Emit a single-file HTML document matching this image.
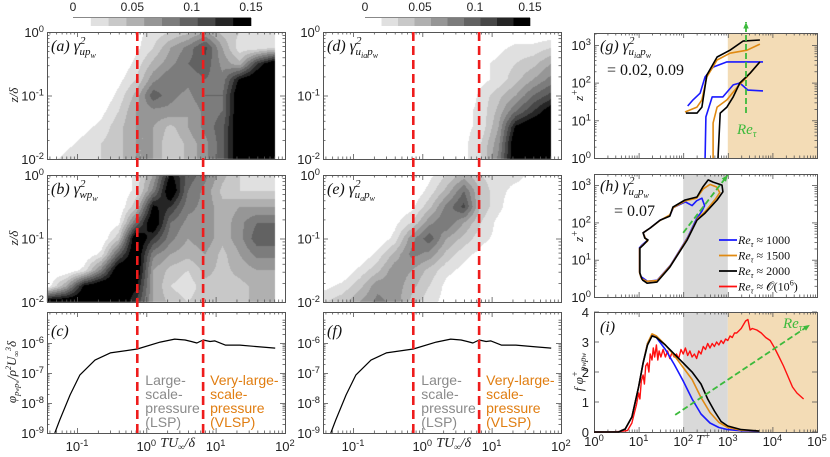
<!DOCTYPE html>
<html><head><meta charset="utf-8">
<style>
html,body{margin:0;padding:0;background:#fff;}
#wrap{position:relative;width:830px;height:457px;overflow:hidden;}
canvas,svg{position:absolute;left:0;top:0;}
text{font-family:"Liberation Sans",sans-serif;}
.s{font-family:"Liberation Serif",serif;font-style:italic;}
.r{font-family:"Liberation Serif",serif;}
</style></head><body>
<div id="wrap">
<canvas id="cv" width="830" height="457"></canvas>
<svg id="sv" width="830" height="457" xmlns="http://www.w3.org/2000/svg"></svg>
</div>
<script>
// ---------- DATA ----------
const gridLogT = [-1.4,-1.15,-0.9,-0.65,-0.4,-0.15,0.1,0.35,0.6,0.85,1.1,1.35,1.6,1.85];
const gridLogZ = [0,-0.25,-0.5,-0.75,-1,-1.25,-1.5,-1.75,-2];
// coherence values in units of 0.01
const gammaA = [
[0,0,0,0,0,1,2,3,4,6,4,3,2,2],
[0,0,0,0,0,1,3,6,8,11,6,2,2,3],
[0,0,0,0,0,2,5,7,9,10,7,5,12,16],
[0,0,0,0,1,3,7,9,8,9,8,14,16,16],
[0,0,0,0,2,5,10,8,7,9,9,16,16,16],
[0,0,0,1,3,6,7,7,6,8,9,16,16,16],
[0,0,1,2,4,6,6,4,6,8,10,16,16,16],
[0,1,2,3,4,6,6,3,5,7,10,16,16,16],
[1,2,3,3,4,6,6,3,5,7,10,16,16,16]];
const gammaB = [
[0,0,0,0,0,2,6,14,10,8,5,3,2,2],
[0,0,0,0,0,2,8,16,9,7,4,3,3,3],
[0,0,0,0,0,4,14,12,8,7,5,6,6,6],
[0,0,0,0,1,9,16,9,7,7,5,7,9,9],
[0,0,0,0,4,16,12,8,6,7,5,7,10,10],
[0,0,0,2,10,16,8,6,5,6,4,6,8,8],
[0,0,2,8,16,16,6,4,3,5,4,5,6,6],
[1,6,14,16,16,14,6,3,2,4,4,4,5,5],
[16,16,16,16,16,12,6,4,3,4,4,4,5,5]];
const gammaD = [
[0,0,0,0,0,0,0,0,0,0,0,0,0,0],
[0,0,0,0,0,0,0,0,0,0,1,2,2,3],
[0,0,0,0,0,0,0,0,0,1,2,3,4,6],
[0,0,0,0,0,0,0,0,0,1,2,4,6,8],
[0,0,0,0,0,0,0,0,0,2,4,6,9,11],
[0,0,0,0,0,0,0,0,1,2,5,9,12,15],
[0,0,0,0,0,0,0,0,1,2,6,14,16,16],
[0,0,0,0,0,0,0,0,1,3,7,16,16,16],
[0,0,0,0,0,0,0,0,1,3,8,16,16,16]];
const gammaE = [
[0,0,0,0,0,0,1,3,5,3,2,2,1,1],
[0,0,0,0,0,0,2,5,9,4,2,1,1,1],
[0,0,0,0,0,1,4,8,11,4,2,0,1,1],
[0,0,0,0,1,3,7,9,6,3,1,0,1,1],
[0,0,0,0,2,7,10,6,4,2,1,0,0,0],
[0,0,0,2,5,8,7,4,2,1,0,0,0,0],
[0,0,2,4,7,6,4,2,1,0,0,0,0,0],
[1,2,4,7,7,5,3,1,0,0,0,0,0,0],
[3,4,6,8,7,4,2,1,0,0,0,0,0,0]];
// spectrum (c),(f): log10 T, log10 phi
const phiLogT = [-1.32,-1.25,-1.1,-0.96,-0.74,-0.52,-0.13,0.2,0.41,0.56,0.65,0.73,0.82,0.92,0.99,1.14,1.35,1.64,1.86];
const phiLogV = [-9,-8.57,-7.73,-7.07,-6.57,-6.33,-6.2,-5.97,-5.87,-5.9,-5.95,-6.0,-5.9,-5.95,-5.93,-6.07,-6.07,-6.13,-6.17];
// (g) contour lines [log T+, log z+]
const gBlueHi = [[2.1,1.38],[2.22,1.54],[2.38,1.72],[2.49,2.15],[2.67,2.41],[2.98,2.55],[3.79,2.55]];
const gBlueLo = [[2.49,0.0],[2.51,1.09],[2.65,1.62],[2.89,1.62],[3.12,1.94],[3.27,1.99],[3.45,1.8],[3.79,1.78]];
const gOrangeHi = [[2.04,1.22],[2.31,1.35],[2.42,1.54],[2.53,2.15],[2.76,2.6],[3.05,2.78],[3.43,2.86],[3.72,3.02]];
const gOrangeLo = [[2.67,0.0],[2.67,0.93],[2.76,1.35],[2.98,1.54],[3.21,1.88],[3.43,2.15],[3.72,2.55]];
const gBlackHi = [[2.06,1.19],[2.31,1.19],[2.42,1.35],[2.53,2.2],[2.76,2.68],[3.05,2.86],[3.34,3.1],[3.72,3.13]];
const gBlackLo = [[2.78,0.0],[2.83,1.19],[2.98,1.35],[3.12,1.62],[3.27,1.99],[3.5,2.25],[3.72,2.55]];
// (h) closed contours
const hBlack = [[1.08,0.46],[1.19,0.37],[1.41,0.4],[1.7,0.8],[2.09,1.53],[2.31,2.06],[2.49,2.25],[2.76,2.6],[2.89,2.82],[2.87,3.0],[2.67,3.08],[2.56,3.14],[2.44,2.95],[2.31,2.68],[2.04,2.6],[1.77,2.41],[1.7,2.17],[1.48,2.06],[1.26,1.85],[1.1,1.72],[1.14,1.58],[1.21,1.53],[1.1,1.39],[1.03,1.31],[1.03,0.64],[1.08,0.46]];
const hOrange = [[1.06,0.5],[1.18,0.42],[1.42,0.44],[1.72,0.85],[2.1,1.58],[2.32,2.1],[2.5,2.3],[2.72,2.62],[2.82,2.8],[2.75,2.95],[2.6,3.02],[2.45,2.9],[2.3,2.65],[2.05,2.58],[1.78,2.4],[1.7,2.2],[1.48,2.05],[1.26,1.85],[1.1,1.72],[1.15,1.58],[1.2,1.5],[1.08,1.38],[1.02,1.3],[1.02,0.66],[1.06,0.5]];
const hBlue = [[1.05,0.55],[1.2,0.42],[1.42,0.45],[1.72,0.86],[2.1,1.6],[2.3,2.1],[2.42,2.3],[2.48,2.45],[2.42,2.65],[2.3,2.58],[2.2,2.45],[2.05,2.55],[1.78,2.4],[1.7,2.18],[1.48,2.06],[1.26,1.85],[1.1,1.72],[1.15,1.58],[1.2,1.52],[1.08,1.4],[1.02,1.32],[1.02,0.68],[1.05,0.55]];
// (i) premultiplied spectra [log T+, value]
const iBlue = [[0,0],[0.55,0],[0.7,0.1],[0.85,0.5],[1.0,1.5],[1.1,2.3],[1.2,2.95],[1.3,3.25],[1.4,3.15],[1.6,2.75],[1.8,2.25],[2.0,1.7],[2.2,1.1],[2.4,0.6],[2.6,0.3],[2.8,0.15],[3.0,0.08],[3.3,0.04],[3.7,0.02]];
const iOrange = [[0,0],[0.55,0],[0.7,0.1],[0.85,0.5],[1.0,1.5],[1.1,2.3],[1.2,2.95],[1.3,3.27],[1.4,3.2],[1.6,2.9],[1.8,2.55],[2.0,2.15],[2.2,1.75],[2.4,1.15],[2.6,0.65],[2.8,0.32],[3.0,0.15],[3.3,0.06],[3.7,0.03]];
const iBlack = [[0,0],[0.55,0],[0.7,0.1],[0.85,0.5],[1.0,1.5],[1.1,2.3],[1.2,2.9],[1.3,3.2],[1.4,3.15],[1.6,2.9],[1.8,2.6],[2.0,2.3],[2.2,2.0],[2.4,1.6],[2.55,1.1],[2.7,0.7],[2.85,0.35],[3.0,0.2],[3.3,0.08],[3.7,0.03]];
const iRed = [[0,0],[0.3,0],[0.6,0.02],[0.75,0.05],[0.85,0.3],[0.9,0.6],[0.95,0.9],[1.0,1.3],[1.03,1.1],[1.06,1.7],[1.1,1.9],[1.13,1.6],[1.16,2.2],[1.2,2.3],[1.23,2.0],[1.26,2.6],[1.3,2.4],[1.33,2.8],[1.36,2.5],[1.4,2.9],[1.43,2.4],[1.46,2.7],[1.5,2.5],[1.55,2.75],[1.6,2.5],[1.65,2.7],[1.7,2.45],[1.75,2.65],[1.8,2.5],[1.85,2.6],[1.9,2.45],[1.95,2.75],[2.0,2.6],[2.05,2.8],[2.1,2.55],[2.15,2.7],[2.2,2.5],[2.25,2.6],[2.3,2.45],[2.35,2.7],[2.4,2.6],[2.45,2.85],[2.5,2.75],[2.55,2.95],[2.6,2.8],[2.65,2.95],[2.7,2.85],[2.75,3.0],[2.8,2.9],[2.85,3.05],[2.9,2.95],[2.95,3.1],[3.0,3.05],[3.05,3.2],[3.1,3.15],[3.15,3.3],[3.2,3.3],[3.3,3.45],[3.4,3.7],[3.45,3.75],[3.5,3.4],[3.55,3.45],[3.65,3.4],[3.75,3.3],[3.85,3.15],[3.95,3.05],[4.05,2.8],[4.15,2.5],[4.25,2.2],[4.35,1.85],[4.45,1.5],[4.55,1.3],[4.7,1.1]];
const cbarTicks = [0,0.05,0.1,0.15];
const cbarTickLabels = ["0","0.05","0.1","0.15"];
const legendLabels = ["1000","1500","2000"];

// ---------- SCALES ----------
const BAND_COLORS = ["#ffffff","#e0e0e0","#c8c8c8","#b0b0b0","#969696","#7c7c7c","#626262","#474747","#252525","#000000"];
const LX = [146.3, 422.3];
const DX = 69.3;
function xL(col, lg){ return LX[col] + DX*lg; }
function yZ(top, lz){ return top - 63.5*lz; }
function yPhi(lp){ return 433 - 30*(lp+9); }
function xR(lg){ return 594 + 44.6*lg; }
function yG(lz){ return 158 - 37.7*lz; }
function yH(lz){ return 297 - 37.3*lz; }
function yI(v){ return 432 - 30*v; }

// ---------- CONTOURS (canvas) ----------
const cv=document.getElementById('cv'); const ctx=cv.getContext('2d');
function gridVal(grid, lgT, lgZ){
  let fi=(lgT-gridLogT[0])/(gridLogT[1]-gridLogT[0]);
  let fj=(gridLogZ[0]-lgZ)/(gridLogZ[0]-gridLogZ[1]);
  fi=Math.max(0,Math.min(gridLogT.length-1.0001,fi));
  fj=Math.max(0,Math.min(gridLogZ.length-1.0001,fj));
  const i=Math.floor(fi), j=Math.floor(fj), a=fi-i, b=fj-j;
  return grid[j][i]*(1-a)*(1-b)+grid[j][i+1]*a*(1-b)+grid[j+1][i]*(1-a)*b+grid[j+1][i+1]*a*b;
}
function drawContour(grid, col, top){
  const x0=Math.round(xL(col,-1.433)), x1=Math.round(xL(col,1.86));
  for(let x=x0;x<x1;x++){
    const lgT=(x+0.5-LX[col])/DX;
    for(let y=top;y<top+127;y++){
      const lgZ=-(y+0.5-top)/63.5;
      const v=gridVal(grid,lgT,lgZ)/100;
      const band=Math.max(0,Math.min(9,Math.floor(v/0.015)));
      if(band===0) continue;
      ctx.fillStyle=BAND_COLORS[band];
      ctx.fillRect(x,y,1,1);
    }
  }
}
drawContour(gammaA,0,32); drawContour(gammaB,0,175);
drawContour(gammaD,1,32); drawContour(gammaE,1,175);

// ---------- SVG ----------
const NS="http://www.w3.org/2000/svg"; const sv=document.getElementById('sv');
function el(tag, attrs, parent){ const e=document.createElementNS(NS,tag); for(const k in attrs) e.setAttribute(k,attrs[k]); (parent||sv).appendChild(e); return e; }
function poly(pts, color, w, name, dash){
  const p=el('polyline',{points:pts.map(q=>q[0].toFixed(1)+','+q[1].toFixed(1)).join(' '),fill:'none',stroke:color,'stroke-width':w,'stroke-linejoin':'round'});
  if(dash) p.setAttribute('stroke-dasharray',dash);
  
  
  return p;
}
function pow10(x,y,exp,anchor,size,name){
  const t=el('text',{x:x,y:y,'text-anchor':anchor,'font-size':size||12,fill:'#222'});
  
  
  t.appendChild(document.createTextNode('10'));
  const s=el('tspan',{dy:-5,'font-size':(size||12)*0.72},t); s.textContent=exp;
  return t;
}
function frame(x0,y0,x1,y1,name){
  const r=el('rect',{x:x0+0.5,y:y0+0.5,width:x1-x0,height:y1-y0,fill:'none',stroke:'#555','stroke-width':1});
  
  
}
function ticksX(x0,x1,y0,y1,lmin,lmax,map){
  for(let d=Math.floor(lmin);d<=Math.ceil(lmax);d++) for(let m=1;m<=9;m++){
    const lv=d+Math.log10(m); if(lv<lmin-1e-6||lv>lmax+1e-6) continue;
    const x=map(lv)+0.5, L=m===1?5:2.5;
    el('line',{x1:x,y1:y1,x2:x,y2:y1-L,stroke:'#555','stroke-width':0.8});
    el('line',{x1:x,y1:y0,x2:x,y2:y0+L,stroke:'#555','stroke-width':0.8});
  }
}
function ticksY(x0,x1,y0,y1,lmin,lmax,map,minor){
  for(let d=Math.floor(lmin);d<=Math.ceil(lmax);d++) for(let m=1;m<=(minor?9:1);m++){
    const lv=d+Math.log10(m); if(lv<lmin-1e-6||lv>lmax+1e-6) continue;
    const y=map(lv)+0.5, L=m===1?5:2.5;
    el('line',{x1:x0,y1:y,x2:x0+L,y2:y,stroke:'#555','stroke-width':0.8});
    el('line',{x1:x1,y1:y,x2:x1-L,y2:y,stroke:'#555','stroke-width':0.8});
  }
}

function shade(xa,xb,y0,y1,color,name){ const r=el('rect',{x:xa,y:y0,width:xb-xa,height:y1-y0,fill:color});   }
shade(xR(3),817,33,158,'#f3dcb6','vlsp-shade-g');
shade(xR(2),xR(3),174,297,'#d9d9d9','lsp-shade-h');
shade(xR(2),xR(3),312,432,'#d9d9d9','lsp-shade-i');
shade(xR(3),817,312,432,'#f3dcb6','vlsp-shade-i');

[0,1].forEach(col=>{
  const x0=Math.round(xL(col,-1.433)), x1=Math.round(xL(col,2));
  [[32,159],[175,302]].forEach(([t,b],k)=>{
    frame(x0,t,x1,b,'panel-'+['a','b','d','e'][col*2+k]+'-frame');
    ticksX(x0,x1,t,b,-1.433,2,lg=>xL(col,lg));
    ticksY(x0,x1,t,b,-2,0,lz=>yZ(t,lz),true);
    [0,-1,-2].forEach(e=>pow10(x0-3,yZ(t,e)+5,String(e),'end',13,'ytick-label'));
  });
  frame(x0,312,x1,433,'panel-'+(col?'f':'c')+'-frame');
  ticksX(x0,x1,312,433,-1.433,2,lg=>xL(col,lg));
  ticksY(x0,x1,312,433,-9,-5.2,yPhi,true);
  [-6,-7,-8,-9].forEach(e=>pow10(x0-3,yPhi(e)+5,String(e),'end',13,'ytick-label'));
  [-1,0,1,2].forEach(e=>pow10(xL(col,e),451,String(e),'middle',13,'xtick-label'));
  const xl=el('text',{x:xL(col,0)+14,y:447,'font-size':14,class:'s',fill:'#222'});
  
  
  xl.innerHTML='TU<tspan dy="3" font-size="9">∞</tspan><tspan dy="-3">/δ</tspan>';
  poly(phiLogT.map((t,i)=>[xL(col,t),yPhi(phiLogV[i])]),'#000',1.2,'spectrum-line');
  const lsp=['Large-','scale-','pressure','(LSP)'], vl=['Very-large-','scale-','pressure','(VLSP)'];
  lsp.forEach((s,i)=>{ const t=el('text',{x:xL(col,-0.13)+8,y:385+i*14,'font-size':14,fill:'#8a8a8a'}); t.textContent=s;   });
  vl.forEach((s,i)=>{ const t=el('text',{x:xL(col,0.82)+7,y:385+i*14,'font-size':14,fill:'#e07d10'}); t.textContent=s;   });
  [-0.13,0.82].forEach(v=>{ const l=el('line',{x1:xL(col,v),y1:32,x2:xL(col,v),y2:433,stroke:'#ee1c1c','stroke-width':2.6,'stroke-dasharray':'9,5'});   });
  const cbx0=col?365:73, cbx1=col?530:251;
  const sw=(cbx1-cbx0)/10;
  for(let k=0;k<10;k++){ const r=el('rect',{x:cbx0+k*sw,y:18,width:sw+0.3,height:8,fill:BAND_COLORS[k]});   }
  el('line',{x1:cbx0,y1:17.5,x2:cbx1,y2:17.5,stroke:'#888','stroke-width':1});
  cbarTicks.forEach((v,i)=>{ const t=el('text',{x:cbx0+(cbx1-cbx0)*v/0.15,y:11,'font-size':12,'text-anchor':'middle',fill:'#222'}); t.textContent=cbarTickLabels[i];   });
});

function title(x,y,html,name,cls){ const t=el('text',{x:x,y:y,'font-size':16,class:cls||'s',fill:'#111'}); t.innerHTML=html;   }
title(51,51,'(a) γ<tspan dy="-7" font-size="11">2</tspan><tspan dx="-6" dy="11" font-size="11">up</tspan><tspan dy="3" font-size="8">w</tspan>','panel-a-title');
title(51,194,'(b) γ<tspan dy="-7" font-size="11">2</tspan><tspan dx="-6" dy="11" font-size="11">wp</tspan><tspan dy="3" font-size="8">w</tspan>','panel-b-title');
title(51,336,'(c)','panel-c-title');
title(327,51,'(d) γ<tspan dy="-7" font-size="11">2</tspan><tspan dx="-6" dy="11" font-size="11">u</tspan><tspan dy="3" font-size="8">ia</tspan><tspan dy="-3" font-size="11">p</tspan><tspan dy="3" font-size="8">w</tspan>','panel-d-title');
title(327,194,'(e) γ<tspan dy="-7" font-size="11">2</tspan><tspan dx="-6" dy="11" font-size="11">u</tspan><tspan dy="3" font-size="8">a</tspan><tspan dy="-3" font-size="11">p</tspan><tspan dy="3" font-size="8">w</tspan>','panel-e-title');
title(327,336,'(f)','panel-f-title');
title(600,51,'(g) γ<tspan dy="-7" font-size="11">2</tspan><tspan dx="-6" dy="11" font-size="11">u</tspan><tspan dy="3" font-size="8">ia</tspan><tspan dy="-3" font-size="11">p</tspan><tspan dy="3" font-size="8">w</tspan>','panel-g-title');
title(607,75,'= 0.02, 0.09','panel-g-levels','r');
title(600,191,'(h) γ<tspan dy="-7" font-size="11">2</tspan><tspan dx="-6" dy="11" font-size="11">u</tspan><tspan dy="3" font-size="8">a</tspan><tspan dy="-3" font-size="11">p</tspan><tspan dy="3" font-size="8">w</tspan>','panel-h-title');
title(614,216,'= 0.07','panel-h-level','r');
title(600,332,'(i)','panel-i-title');

function ytitle(x,y,html,name){ const t=el('text',{x:0,y:0,'font-size':13,class:'s','text-anchor':'middle',fill:'#222',transform:`translate(${x},${y}) rotate(-90)`}); t.innerHTML=html;   }
ytitle(18,95,'z/δ','y-axis-title-a');
ytitle(18,238,'z/δ','y-axis-title-b');
ytitle(16,372,'φ<tspan dy="3" font-size="8">p</tspan><tspan font-size="6">w</tspan><tspan font-size="8">p</tspan><tspan font-size="6">w</tspan><tspan dy="-3">/ρ</tspan><tspan dy="-5" font-size="8">2</tspan><tspan dy="5">U</tspan><tspan dy="3" font-size="8">∞</tspan><tspan dy="-8" font-size="8">3</tspan><tspan dy="5">δ</tspan>','y-axis-title-c');
ytitle(583,95,'z<tspan dy="-5" font-size="10">+</tspan>','y-axis-title-g');
ytitle(583,236,'z<tspan dy="-5" font-size="10">+</tspan>','y-axis-title-h');
ytitle(583,372,'f φ<tspan dy="-5" font-size="9">+</tspan><tspan dy="8" font-size="9">p</tspan><tspan font-size="7">w</tspan><tspan font-size="9">p</tspan><tspan font-size="7">w</tspan>','y-axis-title-i');

frame(594,33,817,158,'panel-g-frame'); ticksX(594,817,33,158,0,5,xR); ticksY(594,817,33,158,0,3.32,yG,true);
frame(594,174,817,297,'panel-h-frame'); ticksX(594,817,174,297,0,5,xR); ticksY(594,817,174,297,0,3.3,yH,true);
frame(594,312,817,432,'panel-i-frame'); ticksX(594,817,312,432,0,5,xR);
[0,1,2,3].forEach(e=>{ pow10(591,yG(e)+5,String(e),'end',13,'ytick-label-g'); pow10(591,yH(e)+5,String(e),'end',13,'ytick-label-h'); });
[0,1,2,3,4].forEach(v=>{ const t=el('text',{x:589,y:yI(v)+5,'font-size':13,'text-anchor':'end',fill:'#222'}); t.textContent=String(v);  
  el('line',{x1:594,y1:yI(v),x2:599,y2:yI(v),stroke:'#555','stroke-width':0.8}); el('line',{x1:817,y1:yI(v),x2:812,y2:yI(v),stroke:'#555','stroke-width':0.8}); });
[0,1,2,3,4,5].forEach(e=>pow10(xR(e),446,String(e),'middle',13,'xtick-label-right'));
(function(){ const t=el('text',{x:696,y:444,'font-size':14,class:'s',fill:'#222'}); t.innerHTML='T<tspan dy="-5" font-size="10">+</tspan>';   })();

const BLUE='#1a1aff', ORANGE='#e08a12', BLACK='#000', RED='#ff1010', GREEN='#3cba3c';
function lineR(arr, ymap, color, name, w){ poly(arr.map(p=>[xR(p[0]),ymap(p[1])]), color, w||1.6, name); }
lineR(gBlueHi,yG,BLUE,'g-line-1000-hi'); lineR(gBlueLo,yG,BLUE,'g-line-1000-lo');
lineR(gOrangeHi,yG,ORANGE,'g-line-1500-hi'); lineR(gOrangeLo,yG,ORANGE,'g-line-1500-lo');
lineR(gBlackHi,yG,BLACK,'g-line-2000-hi'); lineR(gBlackLo,yG,BLACK,'g-line-2000-lo');
lineR(hBlue,yH,BLUE,'h-loop-1000'); lineR(hOrange,yH,ORANGE,'h-loop-1500'); lineR(hBlack,yH,BLACK,'h-loop-2000');
lineR(iRed,yI,RED,'i-line-1e6',1.4);
lineR(iBlue,yI,BLUE,'i-line-1000'); lineR(iOrange,yI,ORANGE,'i-line-1500'); lineR(iBlack,yI,BLACK,'i-line-2000');

function arrow(xa,ya,xb,yb,name){
  const l=el('line',{x1:xa,y1:ya,x2:xb,y2:yb,stroke:GREEN,'stroke-width':1.8,'stroke-dasharray':'6,3'});
   
  const a=Math.atan2(yb-ya,xb-xa), s=7;
  const p=[[xb,yb],[xb-s*Math.cos(a-0.4),yb-s*Math.sin(a-0.4)],[xb-s*Math.cos(a+0.4),yb-s*Math.sin(a+0.4)]];
  const h=el('polygon',{points:p.map(q=>q.join(',')).join(' '),fill:GREEN});
   
}
arrow(746,113,746,22,'re-arrow-g');
arrow(xR(2.0),yH(1.72),xR(3.0),yH(3.27),'re-arrow-h');
arrow(xR(1.82),yI(0.57),xR(4.84),yI(3.57),'re-arrow-i');
function gtext(x,y,name){ const t=el('text',{x:x,y:y,'font-size':15,class:'s',fill:GREEN}); t.innerHTML='Re<tspan dy="3" font-size="10">τ</tspan>';   }
gtext(737,134,'re-label-g'); gtext(783,328,'re-label-i');

const legColors=[BLUE,ORANGE,BLACK,RED];
const legTexts=legendLabels.map(v=>'≈ '+v).concat(['≈ 𝒪(10<tspan dy="-5" font-size="8">6</tspan><tspan dy="5">)</tspan>']);
legColors.forEach((c,i)=>{
  const y=240+i*15.5;
  const l=el('line',{x1:719,y1:y,x2:737,y2:y,stroke:c,'stroke-width':1.8});
   
  const t=el('text',{x:738,y:y+4,'font-size':12,class:'s',fill:'#111'});
  t.innerHTML='Re<tspan dy="3" font-size="8">τ</tspan><tspan dy="-3" font-style="normal"> '+legTexts[i]+'</tspan>';
   
});
</script>
</body></html>
